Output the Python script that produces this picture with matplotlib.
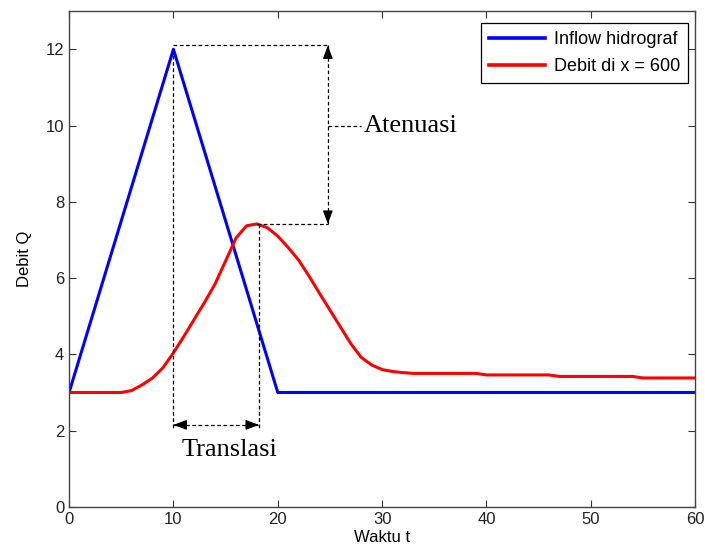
import matplotlib
matplotlib.use('Agg')
import matplotlib.pyplot as plt
import numpy as np

# ------------------- data -------------------
t_inflow = [0, 10, 20, 60]
q_inflow = [3.0, 12.0, 3.0, 3.0]

t_outflow = [0, 5, 6, 7, 8, 9, 10, 11, 12, 13, 14, 15, 16, 17, 18, 19, 20,
             21, 22, 23, 24, 25, 26, 27, 28, 29, 30, 31, 32, 33, 39, 40, 46,
             47, 54, 55, 60]
q_outflow = [3.0, 3.0, 3.05, 3.2, 3.38, 3.65, 4.04, 4.47, 4.92, 5.37, 5.85,
             6.45, 7.05, 7.37, 7.42, 7.32, 7.1, 6.8, 6.47, 6.05, 5.6, 5.16,
             4.72, 4.28, 3.92, 3.72, 3.6, 3.55, 3.52, 3.5, 3.5, 3.46, 3.46,
             3.42, 3.42, 3.38, 3.38]

leyenda = ['Inflow hidrograf', 'Debit di x = 600']
# --------------------------------------------

plt.rcParams['font.family'] = ['Liberation Sans', 'DejaVu Sans']
serif = ['Liberation Serif', 'DejaVu Serif']

fig = plt.figure(figsize=(7.05, 5.57), dpi=100)
ax = fig.add_axes([0.098, 0.09, 0.888, 0.89])

ax.plot(t_inflow, q_inflow, color='#0000ff', lw=2.2, label=leyenda[0])
ax.plot(t_outflow, q_outflow, color='#ff0000', lw=2.2, label=leyenda[1])

# annotation positions taken from the series
t_peak_in = t_inflow[int(np.argmax(q_inflow))]
q_peak_in = max(q_inflow)
i_out = int(np.argmax(q_outflow))
t_peak_out = t_outflow[i_out]
q_peak_out = q_outflow[i_out]
x_att = 24.8
y_tr = 2.15

dash = dict(color='k', ls='--', lw=0.9, dashes=(3, 2))
ax.plot([t_peak_in, x_att], [12.1, 12.1], **dash)
ax.plot([t_peak_out, x_att], [q_peak_out, q_peak_out], **dash)
ax.plot([x_att, x_att], [12.1, q_peak_out], **dash)
ax.plot([x_att, 28.0], [10.0, 10.0], **dash)
ax.plot([t_peak_in, t_peak_in], [q_peak_in, 2.05], **dash)
ax.plot([18.2, 18.2], [q_peak_out, 2.05], **dash)
ax.plot([t_peak_in, 18.2], [y_tr, y_tr], **dash)

def head(xy, xyfrom):
    ax.annotate('', xy=xy, xytext=xyfrom,
                arrowprops=dict(arrowstyle='-|>,head_length=0.8,head_width=0.3',
                                color='k', lw=0.9, shrinkA=0, shrinkB=0))

head((x_att, 12.1), (x_att, 11.9))
head((x_att, q_peak_out), (x_att, q_peak_out + 0.2))
head((t_peak_in, y_tr), (t_peak_in + 0.3, y_tr))
head((18.2, y_tr), (17.9, y_tr))

ax.text(28.2, 10.0, 'Atenuasi', family=serif, fontsize=19, va='center', ha='left')
ax.text(15.4, 1.5, 'Translasi', family=serif, fontsize=19, va='center', ha='center')

ax.set_xlim(0, 60)
ax.set_ylim(0, 13)
ax.set_xticks(np.arange(0, 61, 10))
ax.set_yticks(np.arange(0, 13, 2))
ax.tick_params(direction='in', top=True, right=True, length=5, labelsize=12,
               width=0.8, colors='#333333', labelcolor='#222222')
for s in ax.spines.values():
    s.set_color('#444444')
    s.set_linewidth(1.0)

ax.set_xlabel('Waktu t', fontsize=12, labelpad=2)
ax.set_ylabel('Debit Q', fontsize=12, labelpad=10)

leg = ax.legend(loc='upper right', bbox_to_anchor=(0.989, 0.976), fontsize=13,
                fancybox=False, framealpha=1, edgecolor='k', borderaxespad=0,
                handlelength=3.1, handletextpad=0.5, borderpad=0.45,
                labelspacing=0.55)
leg.get_frame().set_linewidth(0.9)
for ln in leg.get_lines():
    ln.set_linewidth(2.6)

fig.savefig('out.png', dpi=100)
